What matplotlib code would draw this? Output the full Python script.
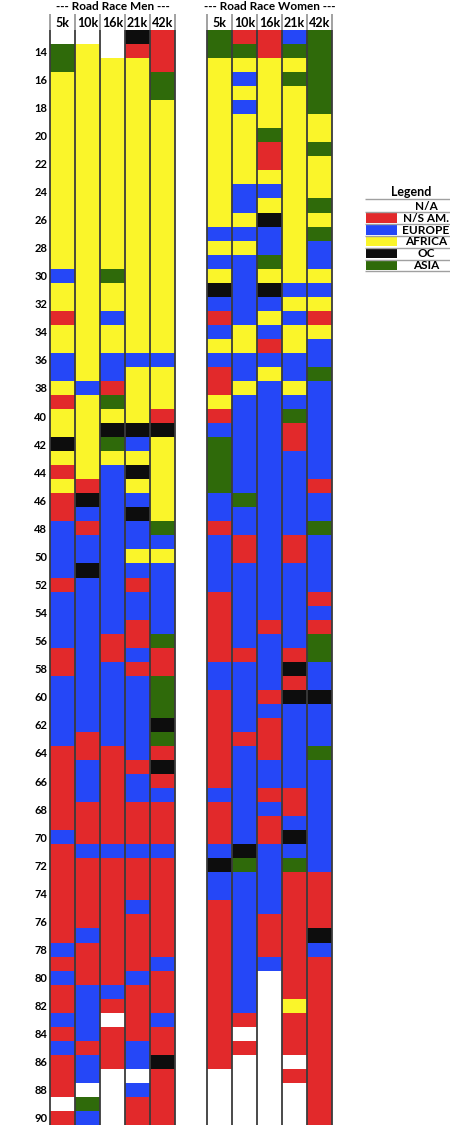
import matplotlib
matplotlib.use('Agg')
import matplotlib.pyplot as plt

# ---------------- data ----------------
events = ['5k', '10k', '16k', '21k', '42k']
region_codes = ['N', 'R', 'B', 'Y', 'K', 'G']
region_names = ['N/A', 'N/S AM.', 'EUROPE', 'AFRICA', 'OC', 'ASIA']
region_colors = ['#FFFFFF', '#E2292B', '#2547F7', '#FAF52A', '#0D0D0D', '#2F6A0A']
first_row, last_row = 13, 90

# blocks: (first row, last row, region code)
men_5k = [(13,13,'N'),(14,15,'G'),(16,29,'Y'),(30,30,'B'),(31,32,'Y'),(33,33,'R'),(34,35,'Y'),
          (36,37,'B'),(38,38,'Y'),(39,39,'R'),(40,41,'Y'),(42,42,'K'),(43,43,'Y'),(44,44,'R'),
          (45,45,'Y'),(46,47,'R'),(48,51,'B'),(52,52,'R'),(53,56,'B'),(57,58,'R'),(59,63,'B'),
          (64,69,'R'),(70,70,'B'),(71,77,'R'),(78,78,'B'),(79,79,'R'),(80,80,'B'),(81,82,'R'),
          (83,83,'B'),(84,84,'R'),(85,85,'B'),(86,88,'R'),(89,89,'N'),(90,90,'R')]
men_10k = [(13,13,'N'),(14,37,'Y'),(38,38,'B'),(39,44,'Y'),(45,45,'R'),(46,46,'K'),(47,47,'B'),
           (48,48,'R'),(49,50,'B'),(51,51,'K'),(52,62,'B'),(63,64,'R'),(65,67,'B'),(68,70,'R'),
           (71,71,'B'),(72,76,'R'),(77,77,'B'),(78,80,'R'),(81,84,'B'),(85,85,'R'),(86,87,'B'),
           (88,88,'N'),(89,89,'G'),(90,90,'B')]
men_16k = [(13,14,'N'),(15,29,'Y'),(30,30,'G'),(31,32,'Y'),(33,33,'B'),(34,35,'Y'),(36,37,'B'),
           (38,38,'R'),(39,39,'G'),(40,40,'Y'),(41,41,'K'),(42,42,'G'),(43,43,'Y'),(44,55,'B'),
           (56,57,'R'),(58,63,'B'),(64,70,'R'),(71,71,'B'),(72,80,'R'),(81,81,'B'),(82,82,'R'),
           (83,83,'N'),(84,86,'R'),(87,90,'N')]
men_21k = [(13,13,'K'),(14,14,'R'),(15,35,'Y'),(36,36,'B'),(37,40,'Y'),(41,41,'K'),(42,42,'B'),
           (43,43,'Y'),(44,44,'K'),(45,45,'Y'),(46,46,'B'),(47,47,'K'),(48,49,'B'),(50,50,'Y'),
           (51,51,'B'),(52,52,'R'),(53,54,'B'),(55,56,'R'),(57,57,'B'),(58,58,'R'),(59,64,'B'),
           (65,65,'R'),(66,67,'B'),(68,70,'R'),(71,71,'B'),(72,74,'R'),(75,75,'B'),(76,79,'R'),
           (80,80,'B'),(81,84,'R'),(85,86,'B'),(87,87,'N'),(88,88,'B'),(89,90,'R')]
men_42k = [(13,15,'R'),(16,17,'G'),(18,35,'Y'),(36,36,'B'),(37,39,'Y'),(40,40,'R'),(41,41,'K'),
           (42,47,'Y'),(48,48,'G'),(49,49,'B'),(50,50,'Y'),(51,55,'B'),(56,56,'G'),(57,58,'R'),
           (59,61,'G'),(62,62,'K'),(63,63,'G'),(64,64,'R'),(65,65,'K'),(66,66,'R'),(67,67,'B'),
           (68,70,'R'),(71,71,'B'),(72,78,'R'),(79,79,'B'),(80,82,'R'),(83,83,'B'),(84,85,'R'),
           (86,86,'K'),(87,90,'R')]

women_5k = [(13,14,'G'),(15,26,'Y'),(27,27,'B'),(28,28,'Y'),(29,29,'B'),(30,30,'Y'),(31,31,'K'),
            (32,32,'B'),(33,33,'R'),(34,34,'B'),(35,35,'Y'),(36,36,'B'),(37,38,'R'),(39,39,'Y'),
            (40,40,'R'),(41,41,'B'),(42,45,'G'),(46,47,'B'),(48,48,'R'),(49,52,'B'),(53,57,'R'),
            (58,59,'B'),(60,66,'R'),(67,67,'B'),(68,70,'R'),(71,71,'B'),(72,72,'K'),(73,74,'B'),
            (75,86,'R'),(87,90,'N')]
women_10k = [(13,13,'R'),(14,14,'G'),(15,15,'Y'),(16,16,'B'),(17,17,'Y'),(18,18,'B'),(19,23,'Y'),
             (24,25,'B'),(26,26,'Y'),(27,27,'B'),(28,28,'Y'),(29,33,'B'),(34,35,'Y'),(36,37,'B'),
             (38,38,'Y'),(39,45,'B'),(46,46,'G'),(47,48,'B'),(49,50,'R'),(51,56,'B'),(57,57,'R'),
             (58,62,'B'),(63,63,'R'),(64,70,'B'),(71,71,'K'),(72,72,'G'),(73,82,'B'),(83,83,'R'),
             (84,84,'N'),(85,85,'R'),(86,90,'N')]
women_16k = [(13,14,'R'),(15,19,'Y'),(20,20,'G'),(21,22,'R'),(23,23,'Y'),(24,24,'B'),(25,25,'Y'),
             (26,26,'K'),(27,28,'B'),(29,29,'G'),(30,30,'Y'),(31,31,'K'),(32,32,'B'),(33,33,'Y'),
             (34,34,'B'),(35,35,'R'),(36,36,'B'),(37,37,'Y'),(38,54,'B'),(55,55,'R'),(56,59,'B'),
             (60,60,'R'),(61,61,'B'),(62,64,'R'),(65,66,'B'),(67,67,'R'),(68,68,'B'),(69,70,'R'),
             (71,75,'B'),(76,78,'R'),(79,79,'B'),(80,90,'N')]
women_21k = [(13,13,'B'),(14,14,'G'),(15,15,'Y'),(16,16,'G'),(17,30,'Y'),(31,31,'B'),(32,32,'Y'),
             (33,33,'B'),(34,35,'Y'),(36,37,'B'),(38,38,'Y'),(39,39,'B'),(40,40,'G'),(41,42,'R'),
             (43,48,'B'),(49,50,'R'),(51,56,'B'),(57,57,'R'),(58,58,'K'),(59,59,'R'),(60,60,'K'),
             (61,66,'B'),(67,68,'R'),(69,69,'B'),(70,70,'K'),(71,71,'B'),(72,72,'G'),(73,81,'R'),
             (82,82,'Y'),(83,85,'R'),(86,86,'N'),(87,87,'R'),(88,90,'N')]
women_42k = [(13,18,'G'),(19,20,'Y'),(21,21,'G'),(22,24,'Y'),(25,25,'G'),(26,26,'Y'),(27,27,'G'),
             (28,29,'B'),(30,30,'Y'),(31,31,'B'),(32,32,'Y'),(33,33,'R'),(34,34,'Y'),(35,36,'B'),
             (37,37,'G'),(38,44,'B'),(45,45,'R'),(46,47,'B'),(48,48,'G'),(49,52,'B'),(53,53,'R'),
             (54,54,'B'),(55,55,'R'),(56,57,'G'),(58,59,'B'),(60,60,'K'),(61,63,'B'),(64,64,'G'),
             (65,72,'B'),(73,76,'R'),(77,77,'K'),(78,78,'B'),(79,90,'R')]

men = [men_5k, men_10k, men_16k, men_21k, men_42k]
women = [women_5k, women_10k, women_16k, women_21k, women_42k]

# ---------------- layout ----------------
W, H = 459, 1125
FONT = 'Lato'
color_of = dict(zip(region_codes, region_colors))

fig = plt.figure(figsize=(W/100, H/100), dpi=100)
fig.patch.set_facecolor('white')

ax_l, ax_r, ax_t, ax_b = 50, 332, 30, 1125
ax = fig.add_axes([ax_l/W, 1 - ax_b/H, (ax_r-ax_l)/W, (ax_b-ax_t)/H])
gap = 6.28
xmax = gap + 5
ax.set_xlim(0, xmax)
ax.set_ylim(last_row + 0.5, first_row - 0.5)

col_lefts = [i for i in range(5)] + [gap + i for i in range(5)]
columns = men + women
for left, blocks in zip(col_lefts, columns):
    for (a, b, code) in blocks:
        ax.bar(left, b - a + 1, bottom=a - 0.5, width=1, align='edge',
               color=color_of[code], linewidth=0)

# column border lines
px_per_row = (ax_b - ax_t) / (last_row - first_row + 1)
def px_to_row(y):
    return first_row - 0.5 - (ax_t - y) / px_per_row

bounds = [i for i in range(6)] + [gap + i for i in range(6)]
ax.vlines(bounds, px_to_row(14), first_row - 0.5, colors='#9a9a9a', linewidth=1.3, clip_on=False)
ax.vlines(bounds, first_row - 0.5, last_row + 0.5, colors='#3b3b3b', linewidth=1.3, clip_on=False)

# header labels
for left, ev in zip(col_lefts, events * 2):
    ax.text(left + 0.5, px_to_row(22.5), ev, ha='center', va='center',
            fontsize=9, fontweight='bold', family=FONT, clip_on=False)
ax.text(2.5, px_to_row(6.5), '--- Road Race Men ---', ha='center',
        va='center', fontsize=8.5, fontweight='bold', family=FONT, clip_on=False)
ax.text(gap + 2.5, px_to_row(6.5), '--- Road Race Women ---',
        ha='center', va='center', fontsize=8.5, fontweight='bold', family=FONT, clip_on=False)

yticks = list(range(14, 91, 2))
ax.set_yticks(yticks)
ax.set_yticklabels([str(t) for t in yticks], fontsize=8, fontweight='bold', family=FONT)
ax.tick_params(axis='y', length=0, pad=2)
ax.set_xticks([])
for s in ax.spines.values():
    s.set_visible(False)

# ---------------- legend ----------------
lx0, lx1, ly0, ly1 = 365, 450, 182, 276
lax = fig.add_axes([lx0/W, 1 - ly1/H, (lx1-lx0)/W, (ly1-ly0)/H])
lax.set_xlim(lx0, lx1)
lax.set_ylim(ly1, ly0)
lax.axis('off')
lax.text(411.5, 192.5, 'Legend', ha='center', va='center', fontsize=9, fontweight='bold', family=FONT)
row_h = 11.9
for i, (name, col) in enumerate(zip(region_names, region_colors)):
    top = 200.0 + i * row_h
    if i > 0:
        lax.bar(365.5, row_h - 2.2, bottom=top + 1.1, width=31.5, align='edge', color=col, linewidth=0)
    lax.text(426, top + row_h / 2 + 0.3, name, ha='center', va='center', fontsize=8.5,
             fontweight='bold', family=FONT)
line_ys = [199.3] + [200.0 + i * row_h for i in range(1, len(region_names) + 1)]
lax.hlines(line_ys, 365, 450, colors='#a0a0a0', linewidth=1.0)

fig.savefig('out.png', dpi=100, facecolor='white')
